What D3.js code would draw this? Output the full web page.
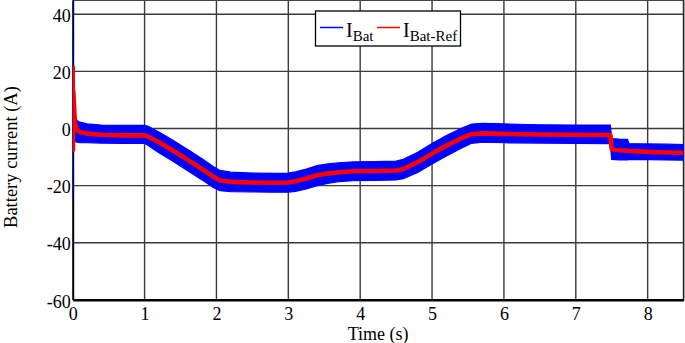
<!DOCTYPE html>
<html>
<head>
<meta charset="utf-8">
<script src="https://cdn.jsdelivr.net/npm/d3@7"></script>
<style>
  html, body { margin: 0; padding: 0; background: #fff; }
  svg { display: block; }
  text { font-family: "Liberation Serif", "Times New Roman", serif; fill: #000; }
</style>
</head>
<body>
<svg id="chart" width="685" height="343"></svg>
<script>
// ---- data ----
const time    = [0, 0.003, 0.008, 0.03, 0.06, 0.1, 0.2, 0.4, 0.7, 1.0, 1.05, 1.2, 1.4, 1.6, 1.8, 1.95, 2.05, 2.2, 2.5, 2.8, 3.0, 3.1, 3.25, 3.4, 3.55, 3.7, 3.9, 4.2, 4.5, 4.6, 4.8, 5.0, 5.2, 5.4, 5.55, 5.7, 6.0, 6.5, 7.0, 7.48, 7.5, 7.6, 7.72, 7.74, 8.0, 8.25, 8.5];
const iBatRef = [22, -7.5, 13, 2, -0.5, -1.2, -1.8, -2.2, -2.4, -2.4, -2.8, -4.8, -7.8, -11, -14.2, -16.8, -18.2, -18.7, -18.9, -19, -18.9, -18.5, -17.5, -16.4, -15.8, -15.3, -15, -14.9, -14.7, -14.2, -11.8, -8.8, -6, -3.5, -2, -1.7, -1.9, -2.1, -2.2, -2.3, -7.2, -7.6, -7.8, -7.9, -8.2, -8.4, -8.5];
const iBatHigh = [45, 6, 6, 5, 2.8, 2.2, 1.6, 1.2, 1.1, 1.1, 0.8, -1.2, -4.2, -7.4, -10.6, -13.2, -14.7, -15.3, -15.6, -15.7, -15.6, -15.2, -14.2, -13, -12.4, -12, -11.7, -11.6, -11.4, -10.8, -8.3, -5.3, -2.5, 0, 1.5, 1.8, 1.6, 1.3, 1.2, 1.2, -3.5, -3.7, -3.8, -5.3, -5.4, -5.5, -5.6];
const iBatLow  = [-25, -4, -4.5, -4.5, -4.8, -5, -5, -5.1, -5.2, -5.2, -6, -8.5, -11.6, -14.8, -18, -20.6, -21.8, -22.1, -22.2, -22.3, -22.3, -22, -21.2, -20, -19.2, -18.6, -18.3, -18.2, -18, -17.6, -15.4, -12.4, -9.6, -7, -5.2, -4.8, -5, -5.1, -5.2, -5.3, -10.8, -11, -11, -10.9, -10.9, -11, -11.1];
const xTicks = [0, 1, 2, 3, 4, 5, 6, 7, 8];
const yTicks = [-60, -40, -20, 0, 20, 40];
const xDomain = [0, 8.5];
const yDomain = [-60, 45];
const xTitle = "Time (s)";
const yTitle = "Battery current (A)";
const legendItems = [
  { main: "I", sub: "Bat", color: "#0000ff" },
  { main: "I", sub: "Bat-Ref", color: "#ff0000" }
];

// ---- layout ----
const svg = d3.select("#chart");
const pLeft = 72.7, pRight = 683.6, pTop = 0.5, pBottom = 299.8;
const x = d3.scaleLinear().domain(xDomain).range([pLeft, pRight]);
const y = d3.scaleLinear().domain(yDomain).range([pBottom, 0]);

svg.append("defs").append("clipPath").attr("id", "clip")
  .append("rect").attr("x", pLeft).attr("y", 0).attr("width", pRight - pLeft).attr("height", pBottom);

// grid
const grid = svg.append("g");
grid.selectAll("line.v").data(xTicks.slice(1)).join("line")
  .attr("x1", d => x(d)).attr("x2", d => x(d)).attr("y1", 0).attr("y2", pBottom)
  .attr("stroke", "#3a3a3a").attr("stroke-width", 1.4);
grid.selectAll("line.h").data(yTicks.slice(1)).join("line")
  .attr("x1", pLeft).attr("x2", pRight).attr("y1", d => y(d)).attr("y2", d => y(d))
  .attr("stroke", "#3a3a3a").attr("stroke-width", 1.4);

// frame (top and right)
svg.append("line").attr("x1", pLeft).attr("x2", pRight).attr("y1", pTop).attr("y2", pTop)
  .attr("stroke", "#444").attr("stroke-width", 1.2);
svg.append("line").attr("x1", pRight).attr("x2", pRight).attr("y1", 0).attr("y2", pBottom)
  .attr("stroke", "#222").attr("stroke-width", 1.6);

// axes
const fmt = d => String(d);
const xAxis = d3.axisBottom(x).tickValues(xTicks).tickSize(0).tickPadding(7).tickFormat(fmt);
const gx = svg.append("g").attr("transform", `translate(0,${pBottom})`).call(xAxis);
gx.select(".domain").attr("stroke", "#000").attr("stroke-width", 2.6);
gx.selectAll("text").attr("font-size", 18).attr("font-family", "Liberation Serif").attr("dy", "0.72em");

const yAxis = d3.axisLeft(y).tickValues(yTicks).tickSize(0).tickPadding(2).tickFormat(fmt);
const gy = svg.append("g").attr("transform", `translate(${pLeft},0)`).call(yAxis);
gy.select(".domain").attr("stroke", "#000").attr("stroke-width", 2);
gy.selectAll("text").attr("font-size", 18).attr("font-family", "Liberation Serif").attr("dy", "0.4em");

// titles
svg.append("text").attr("x", (pLeft + pRight) / 2).attr("y", 339.5).attr("text-anchor", "middle")
  .attr("font-size", 18).text(xTitle);
svg.append("text").attr("transform", `translate(17,${y(-10)}) rotate(-90)`).attr("text-anchor", "middle")
  .attr("font-size", 18.5).text(yTitle);

// data
const pts = time.map((t, i) => ({ t, ref: iBatRef[i], hi: iBatHigh[i], lo: iBatLow[i] }));
const dataG = svg.append("g").attr("clip-path", "url(#clip)");
dataG.append("path").datum(pts)
  .attr("d", d3.area().x(d => x(d.t)).y0(d => y(d.lo)).y1(d => y(d.hi)))
  .attr("fill", "#0000ff").attr("stroke", "#0000ff").attr("stroke-width", 1.2);
dataG.append("path").datum(pts)
  .attr("d", d3.line().x(d => x(d.t)).y(d => y(d.ref)))
  .attr("fill", "none").attr("stroke", "#ff0000").attr("stroke-width", 4.6).attr("stroke-linejoin", "round");

// legend
const lg = svg.append("g");
lg.append("rect").attr("x", 315.5).attr("y", 11).attr("width", 145).attr("height", 35)
  .attr("fill", "#fff").attr("stroke", "#000").attr("stroke-width", 1.3);
const legX = [320, 377];
legendItems.forEach((it, i) => {
  const gx0 = legX[i];
  lg.append("line").attr("x1", gx0).attr("x2", gx0 + 23).attr("y1", 27.5).attr("y2", 27.5)
    .attr("stroke", it.color).attr("stroke-width", 1.5);
  const t = lg.append("text").attr("x", gx0 + 26).attr("y", 36.5).attr("font-size", 20);
  t.append("tspan").text(it.main);
  t.append("tspan").attr("font-size", 15).attr("dy", 4.5).text(it.sub);
});
</script>
</body>
</html>
